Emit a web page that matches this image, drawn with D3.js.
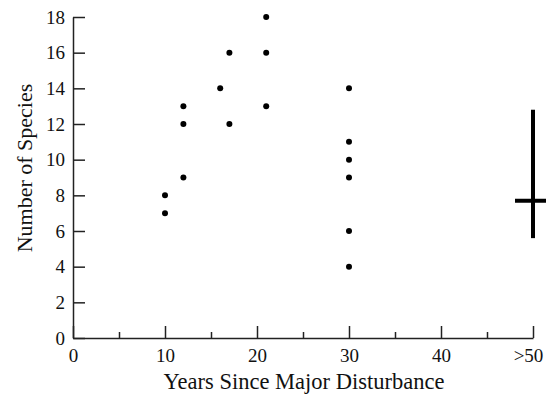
<!DOCTYPE html>
<html>
<head>
<meta charset="utf-8">
<script src="https://cdn.jsdelivr.net/npm/d3@7"></script>
<style>
  body { margin: 0; background: #fff; }
  svg { display: block; }
  text { font-family: "Liberation Serif", "DejaVu Serif", serif; fill: #111; }
</style>
</head>
<body>
<svg id="chart" width="546" height="397"></svg>
<script>
// observed sites: years since disturbance, species count
var years   = [10, 10, 12, 12, 12, 16, 17, 17, 21, 21, 21, 30, 30, 30, 30, 30, 30];
var species = [ 8,  7, 13, 12,  9, 14, 16, 12, 18, 16, 13, 14, 11, 10,  9,  6,  4];

// old-growth (>50 yr) summary: mean with range
var oldYear = [50];
var oldMean = [7.7];
var oldLow  = [5.6];
var oldHigh = [12.8];

var xMajor = [0, 10, 20, 30, 40, 50];
var xMinor = [5, 15, 25, 35, 45];
var yTicks = [0, 2, 4, 6, 8, 10, 12, 14, 16, 18];

var svg = d3.select('#chart');

var xScale = d3.scaleLinear().domain([0, 50]).range([73, 533]);
var yScale = d3.scaleLinear().domain([0, 18]).range([338, 17]);

// x axis, ticks point up into the plot
var xAxis = d3.axisBottom(xScale)
  .tickValues(xMajor)
  .tickSizeInner(-12)
  .tickSizeOuter(0)
  .tickFormat(function (d) { return d === 50 ? '>50' : d; });

var gx = svg.append('g')
  .attr('transform', 'translate(0,' + yScale(0) + ')')
  .call(xAxis);
gx.selectAll('text').attr('dy', 0).attr('y', 24).style('font-size', '19px');
gx.selectAll('.tick').filter(function (d) { return d === 50; })
  .select('text').attr('x', -5);

svg.append('g')
  .attr('transform', 'translate(0,' + yScale(0) + ')')
  .call(d3.axisBottom(xScale).tickValues(xMinor).tickSizeInner(-6).tickSizeOuter(0).tickFormat(''))
  .select('.domain').remove();

// y axis, ticks point right
var gy = svg.append('g')
  .attr('transform', 'translate(' + xScale(0) + ',0)')
  .call(d3.axisLeft(yScale).tickValues(yTicks).tickSizeInner(-12).tickSizeOuter(0));
gy.selectAll('text').attr('x', -8).style('font-size', '19px');

svg.selectAll('.domain, .tick line')
  .attr('stroke', '#222')
  .attr('stroke-width', 1.5);
svg.selectAll('.tick text').style('font-family', '"Liberation Serif", serif').attr('fill', '#111');

// dots
svg.append('g')
  .selectAll('circle')
  .data(years)
  .enter()
  .append('circle')
  .attr('cx', function (d) { return xScale(d); })
  .attr('cy', function (d, i) { return yScale(species[i]); })
  .attr('r', 3)
  .attr('fill', '#000');

// >50 range bar
var bar = svg.append('g');
oldYear.forEach(function (yr, i) {
  bar.append('line')
    .attr('x1', xScale(yr)).attr('x2', xScale(yr))
    .attr('y1', yScale(oldLow[i])).attr('y2', yScale(oldHigh[i]))
    .attr('stroke', '#000').attr('stroke-width', 4);
  bar.append('line')
    .attr('x1', xScale(yr) - 18).attr('x2', xScale(yr) + 18)
    .attr('y1', yScale(oldMean[i])).attr('y2', yScale(oldMean[i]))
    .attr('stroke', '#000').attr('stroke-width', 4);
});

// axis titles
svg.append('text')
  .attr('x', 304)
  .attr('y', 389)
  .attr('text-anchor', 'middle')
  .style('font-size', '22.5px')
  .text('Years Since Major Disturbance');

svg.append('text')
  .attr('transform', 'translate(32,168) rotate(-90)')
  .attr('text-anchor', 'middle')
  .style('font-size', '22px')
  .text('Number of Species');
</script>
</body>
</html>
